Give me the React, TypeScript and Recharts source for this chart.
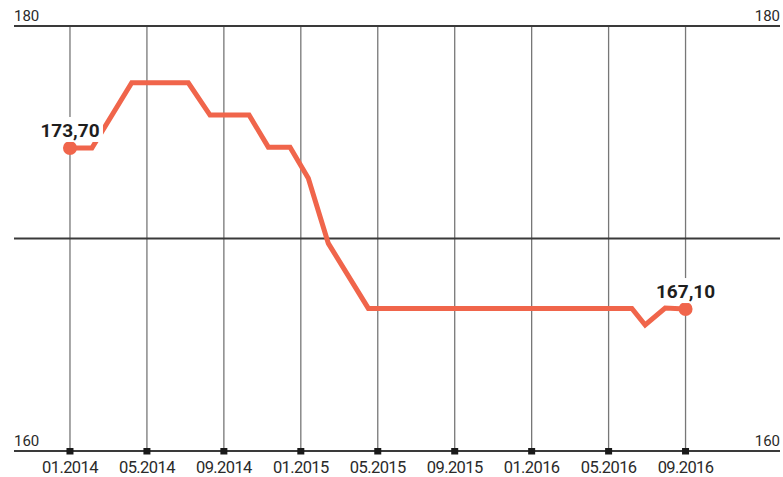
import { LineChart, Line, XAxis, YAxis, CartesianGrid } from "recharts";

// months since 01.2014 and rate values
const MONTHS = [0, 1.14, 3.21, 6.15, 7.28, 9.31, 10.31, 11.44, 12.39, 13.43, 15.51, 29.21, 29.9, 30.94, 32];
const RATES = [174.26, 174.26, 177.33, 177.33, 175.81, 175.81, 174.3, 174.3, 172.83, 169.77, 166.71, 166.71, 165.93, 166.73, 166.68];

const TICK_MONTHS = [0, 4, 8, 12, 16, 20, 24, 28, 32];
const TICK_LABELS = ["01.2014", "05.2014", "09.2014", "01.2015", "05.2015", "09.2015", "01.2016", "05.2016", "09.2016"];
const Y_TICKS = [160, 170, 180];
const Y_LABELED = [160, 180];
const END_LABELS = ["173,70", "167,10"];

const W = 783;
const H = 477;
const LEFT = 14;
const RIGHT = 780;
const COLOR = "#f0654b";
const FONT = "Roboto, sans-serif";

const data = MONTHS.map((m, i) => ({ m, v: RATES[i] }));
const last = data.length - 1;

const XTick = (props: any) => {
  const { x, y, payload } = props;
  const i = TICK_MONTHS.indexOf(payload.value);
  return (
    <g>
      <rect x={x - 3.5} y={y - 3} width={7} height={6.5} fill="#1a1a1a" />
      <text x={x} y={y + 22} textAnchor="middle" fontSize={16.5} letterSpacing={-0.6} fill="#2a2a2a" fontFamily={FONT}>
        {TICK_LABELS[i]}
      </text>
    </g>
  );
};

const YTick = (props: any) => {
  const { y, payload } = props;
  if (!Y_LABELED.includes(payload.value)) return <g />;
  return (
    <g>
      <text x={LEFT} y={y - 5} textAnchor="start" fontSize={15} fill="#2a2a2a" fontFamily={FONT}>
        {payload.value}
      </text>
      <text x={RIGHT} y={y - 5} textAnchor="end" fontSize={15} fill="#2a2a2a" fontFamily={FONT}>
        {payload.value}
      </text>
    </g>
  );
};

const renderDot = (props: any) => {
  const { cx, cy, index } = props;
  if (index !== 0 && index !== last) return <g key={index} />;
  return <circle key={index} cx={cx} cy={cy} r={7} fill={COLOR} />;
};

const renderLabel = (props: any) => {
  const { x, y, index } = props;
  if (index !== 0 && index !== last) return null;
  const text = index === 0 ? END_LABELS[0] : END_LABELS[1];
  return (
    <g key={`l${index}`}>
      <rect x={x - 32} y={y - 31} width={65} height={25} fill="#fff" />
      <text x={x} y={y - 11} textAnchor="middle" fontSize={19} fontWeight={700} fill="#1e1e1e" fontFamily={FONT}>
        {text}
      </text>
    </g>
  );
};

export default function App() {
  return (
    <div style={{ position: "absolute", left: 0, top: 0, width: W, height: H, background: "#fff" }}>
      <LineChart width={W} height={H} data={data} margin={{ top: 26, right: W - RIGHT, bottom: 0, left: LEFT - 1 }}>
        <CartesianGrid horizontal={false} stroke="#777" strokeWidth={1.3} syncWithTicks />
        <CartesianGrid vertical={false} stroke="#3a3a3a" strokeWidth={2} syncWithTicks />
        <XAxis
          dataKey="m"
          type="number"
          domain={[-2.91, 36.91]}
          ticks={TICK_MONTHS}
          axisLine={false}
          tickLine={false}
          tickSize={0}
          tickMargin={0}
          height={26}
          tick={XTick}
          interval={0}
        />
        <YAxis
          domain={[160, 180]}
          ticks={Y_TICKS}
          width={1}
          axisLine={false}
          tickLine={false}
          tick={YTick}
          interval={0}
        />
        <Line
          dataKey="v"
          stroke={COLOR}
          strokeWidth={5}
          dot={renderDot}
          activeDot={false}
          label={renderLabel}
          isAnimationActive={false}
        />
      </LineChart>
    </div>
  );
}
